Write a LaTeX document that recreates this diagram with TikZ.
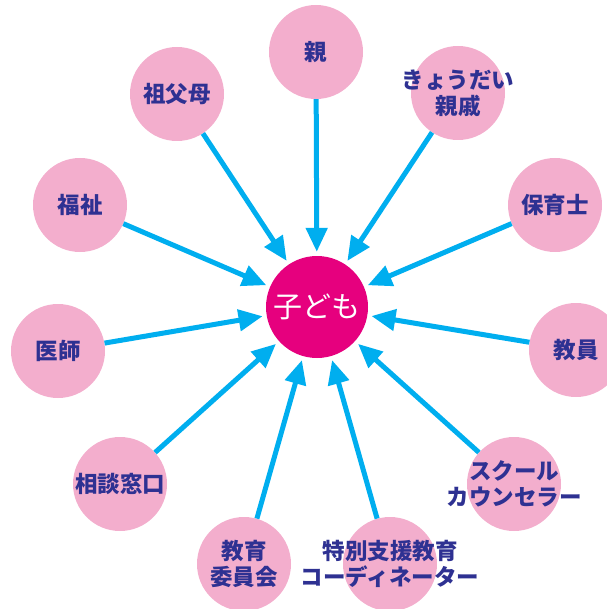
\documentclass[tikz,border=0pt]{standalone}
\usepackage{fontspec}
\newfontfamily\jpfont{Noto Sans CJK JP}
\usetikzlibrary{arrows.meta}

\definecolor{ballpink}{RGB}{243,174,205}
\definecolor{kidmagenta}{RGB}{230,0,126}
\definecolor{arrowcyan}{RGB}{0,174,239}
\definecolor{labelnavy}{RGB}{46,49,146}

\tikzset{
  ball/.style={circle, fill=ballpink, minimum size=94pt, inner sep=0pt},
  kid/.style={circle, fill=kidmagenta, minimum size=102pt, inner sep=0pt},
  lbl/.style={text=labelnavy, align=center, font=\jpfont\bfseries\fontsize{22.5}{26}\selectfont},
  link/.style={draw=arrowcyan, line width=5pt, shorten >=4pt,
    -{Triangle[length=24pt,width=21pt]}},
}

\begin{document}
\begin{tikzpicture}[x=1pt, y=-1pt]
\useasboundingbox (0,0) rectangle (606,609);

	\node [kid] (kodomo) at (317,307) {};
	\node [text=white, font=\jpfont\fontsize{29}{32}\selectfont] at (kodomo) {子ども};

	\node [ball] (oya) at (316,52) {};
	\node [lbl] at (oya) {親};
	\node [ball] (kyodai) at (458,93) {};
	\node [lbl] at (kyodai) {きょうだい\\親戚};
	\node [ball] (hoiku) at (555,205) {};
	\node [lbl] at (hoiku) {保育士};
	\node [ball] (kyoin) at (576,350) {};
	\node [lbl] at (kyoin) {教員};
	\node [ball] (school) at (514,484) {};
	\node [lbl] at (school) {スクール\\カウンセラー};
	\node [ball] (tokubetsu) at (390,564) {};
	\node [lbl] at (tokubetsu) {特別支援教育\\コーディネーター};
	\node [ball] (iinkai) at (244,564) {};
	\node [lbl] at (iinkai) {教育\\委員会};
	\node [ball] (sodan) at (120,484) {};
	\node [lbl] at (sodan) {相談窓口};
	\node [ball] (ishi) at (58,351) {};
	\node [lbl] at (ishi) {医師};
	\node [ball] (fukushi) at (80,205) {};
	\node [lbl] at (fukushi) {福祉};
	\node [ball] (sofubo) at (177,94) {};
	\node [lbl] at (sofubo) {祖父母};

	\draw [link] (oya) -- (kodomo);
	\draw [link] (kyodai) -- (kodomo);
	\draw [link] (hoiku) -- (kodomo);
	\draw [link] (kyoin) -- (kodomo);
	\draw [link] (school) -- (kodomo);
	\draw [link] (tokubetsu) -- (kodomo);
	\draw [link] (iinkai) -- (kodomo);
	\draw [link] (sodan) -- (kodomo);
	\draw [link] (ishi) -- (kodomo);
	\draw [link] (fukushi) -- (kodomo);
	\draw [link] (sofubo) -- (kodomo);

\end{tikzpicture}
\end{document}
